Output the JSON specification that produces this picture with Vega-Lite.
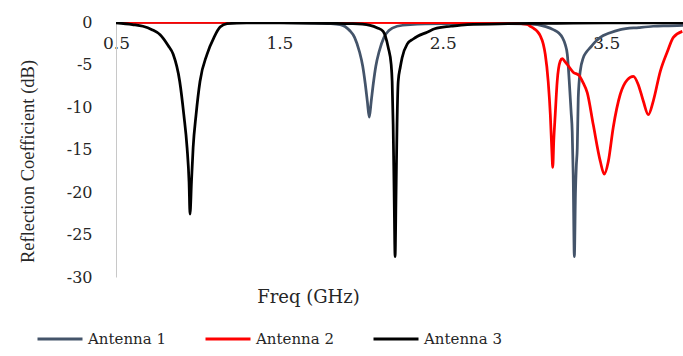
{
  "$schema": "https://vega.github.io/schema/vega-lite/v6.json",
  "width": 567,
  "height": 255,
  "autosize": {"type": "none"},
  "padding": {"left": 116, "top": 22, "right": 0, "bottom": 79},
  "background": "white",
  "config": {
    "view": {"stroke": null},
    "font": "DejaVu Serif"
  },
  "data": {
    "values": [
      {"ant": "Antenna 1", "f": 0.5, "db": -0.05},
      {"ant": "Antenna 1", "f": 1.0, "db": -0.05},
      {"ant": "Antenna 1", "f": 1.5, "db": -0.08},
      {"ant": "Antenna 1", "f": 1.7, "db": -0.12},
      {"ant": "Antenna 1", "f": 1.8, "db": -0.18},
      {"ant": "Antenna 1", "f": 1.872, "db": -0.3},
      {"ant": "Antenna 1", "f": 1.93, "db": -1.0},
      {"ant": "Antenna 1", "f": 1.96, "db": -1.8},
      {"ant": "Antenna 1", "f": 1.99, "db": -3.5},
      {"ant": "Antenna 1", "f": 2.01, "db": -5.2},
      {"ant": "Antenna 1", "f": 2.025, "db": -7.2},
      {"ant": "Antenna 1", "f": 2.038, "db": -9.3},
      {"ant": "Antenna 1", "f": 2.05, "db": -11.2},
      {"ant": "Antenna 1", "f": 2.062, "db": -9.3},
      {"ant": "Antenna 1", "f": 2.075, "db": -7.2},
      {"ant": "Antenna 1", "f": 2.09, "db": -5.2},
      {"ant": "Antenna 1", "f": 2.11, "db": -3.5},
      {"ant": "Antenna 1", "f": 2.14, "db": -1.8},
      {"ant": "Antenna 1", "f": 2.17, "db": -1.0},
      {"ant": "Antenna 1", "f": 2.22, "db": -0.5},
      {"ant": "Antenna 1", "f": 2.3, "db": -0.3},
      {"ant": "Antenna 1", "f": 2.5, "db": -0.2},
      {"ant": "Antenna 1", "f": 2.8, "db": -0.18},
      {"ant": "Antenna 1", "f": 3.0, "db": -0.22},
      {"ant": "Antenna 1", "f": 3.078, "db": -0.3},
      {"ant": "Antenna 1", "f": 3.13, "db": -0.55},
      {"ant": "Antenna 1", "f": 3.176, "db": -0.9},
      {"ant": "Antenna 1", "f": 3.21, "db": -1.3},
      {"ant": "Antenna 1", "f": 3.231, "db": -1.8},
      {"ant": "Antenna 1", "f": 3.25, "db": -2.7},
      {"ant": "Antenna 1", "f": 3.262, "db": -3.8},
      {"ant": "Antenna 1", "f": 3.274, "db": -7.0},
      {"ant": "Antenna 1", "f": 3.285, "db": -10.5},
      {"ant": "Antenna 1", "f": 3.292, "db": -12.9},
      {"ant": "Antenna 1", "f": 3.298, "db": -18.0},
      {"ant": "Antenna 1", "f": 3.305, "db": -27.6},
      {"ant": "Antenna 1", "f": 3.312, "db": -20.0},
      {"ant": "Antenna 1", "f": 3.317, "db": -17.0},
      {"ant": "Antenna 1", "f": 3.323, "db": -14.8},
      {"ant": "Antenna 1", "f": 3.329, "db": -8.9},
      {"ant": "Antenna 1", "f": 3.341, "db": -5.8},
      {"ant": "Antenna 1", "f": 3.36, "db": -4.2},
      {"ant": "Antenna 1", "f": 3.38, "db": -3.5},
      {"ant": "Antenna 1", "f": 3.403, "db": -3.0},
      {"ant": "Antenna 1", "f": 3.43, "db": -2.4},
      {"ant": "Antenna 1", "f": 3.464, "db": -1.8},
      {"ant": "Antenna 1", "f": 3.52, "db": -1.3},
      {"ant": "Antenna 1", "f": 3.586, "db": -0.9},
      {"ant": "Antenna 1", "f": 3.7, "db": -0.65},
      {"ant": "Antenna 1", "f": 3.788, "db": -0.5},
      {"ant": "Antenna 1", "f": 3.88, "db": -0.45},
      {"ant": "Antenna 1", "f": 3.97, "db": -0.4},

      {"ant": "Antenna 2", "f": 0.5, "db": -0.05},
      {"ant": "Antenna 2", "f": 1.5, "db": -0.05},
      {"ant": "Antenna 2", "f": 2.5, "db": -0.08},
      {"ant": "Antenna 2", "f": 2.9, "db": -0.1},
      {"ant": "Antenna 2", "f": 2.98, "db": -0.2},
      {"ant": "Antenna 2", "f": 3.017, "db": -0.3},
      {"ant": "Antenna 2", "f": 3.035, "db": -0.5},
      {"ant": "Antenna 2", "f": 3.06, "db": -0.8},
      {"ant": "Antenna 2", "f": 3.078, "db": -1.1},
      {"ant": "Antenna 2", "f": 3.096, "db": -1.6},
      {"ant": "Antenna 2", "f": 3.115, "db": -2.6},
      {"ant": "Antenna 2", "f": 3.127, "db": -3.8},
      {"ant": "Antenna 2", "f": 3.145, "db": -7.0},
      {"ant": "Antenna 2", "f": 3.158, "db": -10.9},
      {"ant": "Antenna 2", "f": 3.167, "db": -15.0},
      {"ant": "Antenna 2", "f": 3.173, "db": -17.1},
      {"ant": "Antenna 2", "f": 3.179, "db": -14.0},
      {"ant": "Antenna 2", "f": 3.188, "db": -10.9},
      {"ant": "Antenna 2", "f": 3.2, "db": -7.0},
      {"ant": "Antenna 2", "f": 3.219, "db": -4.6},
      {"ant": "Antenna 2", "f": 3.231, "db": -4.3},
      {"ant": "Antenna 2", "f": 3.245, "db": -4.6},
      {"ant": "Antenna 2", "f": 3.262, "db": -5.0},
      {"ant": "Antenna 2", "f": 3.298, "db": -5.9},
      {"ant": "Antenna 2", "f": 3.335, "db": -6.3},
      {"ant": "Antenna 2", "f": 3.36, "db": -7.2},
      {"ant": "Antenna 2", "f": 3.384, "db": -8.3},
      {"ant": "Antenna 2", "f": 3.421, "db": -12.1},
      {"ant": "Antenna 2", "f": 3.464, "db": -16.4},
      {"ant": "Antenna 2", "f": 3.488, "db": -17.9},
      {"ant": "Antenna 2", "f": 3.513, "db": -16.4},
      {"ant": "Antenna 2", "f": 3.543, "db": -12.4},
      {"ant": "Antenna 2", "f": 3.586, "db": -8.5},
      {"ant": "Antenna 2", "f": 3.629, "db": -6.8},
      {"ant": "Antenna 2", "f": 3.666, "db": -6.4},
      {"ant": "Antenna 2", "f": 3.697, "db": -7.4},
      {"ant": "Antenna 2", "f": 3.727, "db": -9.3},
      {"ant": "Antenna 2", "f": 3.758, "db": -10.9},
      {"ant": "Antenna 2", "f": 3.788, "db": -9.3},
      {"ant": "Antenna 2", "f": 3.831, "db": -5.8},
      {"ant": "Antenna 2", "f": 3.874, "db": -3.5},
      {"ant": "Antenna 2", "f": 3.911, "db": -1.8},
      {"ant": "Antenna 2", "f": 3.966, "db": -1.1},

      {"ant": "Antenna 3", "f": 0.5, "db": -0.1},
      {"ant": "Antenna 3", "f": 0.6, "db": -0.3},
      {"ant": "Antenna 3", "f": 0.665, "db": -0.5},
      {"ant": "Antenna 3", "f": 0.72, "db": -0.9},
      {"ant": "Antenna 3", "f": 0.77, "db": -1.5},
      {"ant": "Antenna 3", "f": 0.82, "db": -2.8},
      {"ant": "Antenna 3", "f": 0.85, "db": -3.8},
      {"ant": "Antenna 3", "f": 0.89, "db": -7.0},
      {"ant": "Antenna 3", "f": 0.915, "db": -10.9},
      {"ant": "Antenna 3", "f": 0.935, "db": -14.8},
      {"ant": "Antenna 3", "f": 0.947, "db": -18.8},
      {"ant": "Antenna 3", "f": 0.953, "db": -22.6},
      {"ant": "Antenna 3", "f": 0.962, "db": -18.8},
      {"ant": "Antenna 3", "f": 0.972, "db": -14.8},
      {"ant": "Antenna 3", "f": 0.99, "db": -10.9},
      {"ant": "Antenna 3", "f": 1.014, "db": -7.0},
      {"ant": "Antenna 3", "f": 1.057, "db": -3.8},
      {"ant": "Antenna 3", "f": 1.1, "db": -1.8},
      {"ant": "Antenna 3", "f": 1.137, "db": -0.6},
      {"ant": "Antenna 3", "f": 1.18, "db": -0.2},
      {"ant": "Antenna 3", "f": 1.3, "db": -0.1},
      {"ant": "Antenna 3", "f": 1.5, "db": -0.1},
      {"ant": "Antenna 3", "f": 1.8, "db": -0.15},
      {"ant": "Antenna 3", "f": 1.95, "db": -0.2},
      {"ant": "Antenna 3", "f": 2.055, "db": -0.4},
      {"ant": "Antenna 3", "f": 2.1, "db": -0.7},
      {"ant": "Antenna 3", "f": 2.135, "db": -1.1},
      {"ant": "Antenna 3", "f": 2.166, "db": -3.0},
      {"ant": "Antenna 3", "f": 2.184, "db": -5.0},
      {"ant": "Antenna 3", "f": 2.19, "db": -7.0},
      {"ant": "Antenna 3", "f": 2.196, "db": -12.0},
      {"ant": "Antenna 3", "f": 2.202, "db": -20.0},
      {"ant": "Antenna 3", "f": 2.208, "db": -27.6},
      {"ant": "Antenna 3", "f": 2.214, "db": -20.0},
      {"ant": "Antenna 3", "f": 2.22, "db": -12.0},
      {"ant": "Antenna 3", "f": 2.227, "db": -7.0},
      {"ant": "Antenna 3", "f": 2.24, "db": -5.3},
      {"ant": "Antenna 3", "f": 2.251, "db": -4.2},
      {"ant": "Antenna 3", "f": 2.282, "db": -2.6},
      {"ant": "Antenna 3", "f": 2.319, "db": -2.0},
      {"ant": "Antenna 3", "f": 2.343, "db": -1.7},
      {"ant": "Antenna 3", "f": 2.404, "db": -1.2},
      {"ant": "Antenna 3", "f": 2.45, "db": -0.8},
      {"ant": "Antenna 3", "f": 2.55, "db": -0.5},
      {"ant": "Antenna 3", "f": 2.65, "db": -0.3},
      {"ant": "Antenna 3", "f": 2.9, "db": -0.2},
      {"ant": "Antenna 3", "f": 3.2, "db": -0.15},
      {"ant": "Antenna 3", "f": 3.5, "db": -0.1},
      {"ant": "Antenna 3", "f": 3.97, "db": -0.1}
    ]
  },
  "mark": {"type": "line", "strokeWidth": 2.75, "interpolate": "monotone", "clip": true},
  "encoding": {
    "x": {
      "field": "f",
      "type": "quantitative",
      "scale": {"domain": [0.5, 3.97], "nice": false, "zero": false},
      "axis": {
        "orient": "top",
        "values": [0.5, 1.5, 2.5, 3.5],
        "format": ".1f",
        "ticks": false,
        "grid": false,
        "labelFlush": false,
        "labelOverlap": false,
        "labelBaseline": "top",
        "labelPadding": -13,
        "labelFont": "DejaVu Serif",
        "labelFontSize": 17,
        "labelColor": "#262626",
        "domainColor": "#d0d0d0",
        "domainWidth": 1,
        "title": "Freq (GHz)",
        "titleFont": "DejaVu Serif",
        "titleFontSize": 18,
        "titleFontWeight": "normal",
        "titleColor": "#262626",
        "titleX": 192,
        "titleY": 275,
        "titleBaseline": "middle",
        "titleAlign": "center"
      }
    },
    "y": {
      "field": "db",
      "type": "quantitative",
      "scale": {"domain": [-30, 0], "nice": false},
      "axis": {
        "values": [0, -5, -10, -15, -20, -25, -30],
        "labelExpr": "datum.value == 0 ? '0' : '-' + abs(datum.value)",
        "ticks": false,
        "grid": false,
        "labelPadding": 24,
        "labelFont": "DejaVu Serif",
        "labelFontSize": 16,
        "labelColor": "#262626",
        "domainColor": "#c8c8c8",
        "domainWidth": 1,
        "title": "Reflection Coefficient (dB)",
        "titleFont": "Liberation Serif",
        "titleFontSize": 18.5,
        "titleFontWeight": "normal",
        "titleColor": "#262626",
        "titleX": -89,
        "titleY": 139,
        "titleBaseline": "middle",
        "titleAlign": "center",
        "titleAngle": 270
      }
    },
    "color": {
      "field": "ant",
      "type": "nominal",
      "scale": {"domain": ["Antenna 1", "Antenna 2", "Antenna 3"], "range": ["#44546A", "#FF0000", "#000000"]},
      "legend": {
        "title": null,
        "orient": "none",
        "legendX": -80,
        "legendY": 293,
        "direction": "horizontal",
        "symbolType": "stroke",
        "symbolSize": 2025,
        "symbolStrokeWidth": 3,
        "labelFont": "DejaVu Serif",
        "labelFontSize": 15,
        "labelColor": "#262626",
        "labelOffset": 4,
        "columnPadding": 33
      }
    }
  }
}
